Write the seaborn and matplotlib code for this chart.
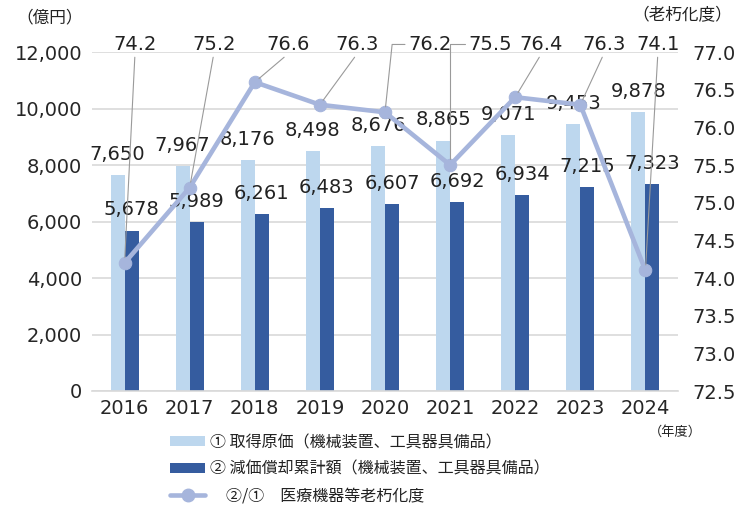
import numpy as np
import pandas as pd
import matplotlib
matplotlib.use('Agg')
import matplotlib.pyplot as plt
from matplotlib.patches import Patch
from matplotlib.lines import Line2D
import seaborn as sns

sns.set_style('white')
plt.rcParams['font.family'] = ['DejaVu Sans', 'Noto Sans CJK JP']
plt.rcParams['text.color'] = '#222222'
JP = ['Noto Sans CJK JP', 'DejaVu Sans']

# data
YEARS = ['2016', '2017', '2018', '2019', '2020', '2021', '2022', '2023', '2024']
ACQ = [7650, 7967, 8176, 8498, 8676, 8865, 9071, 9453, 9878]      # ① 取得原価
DEP = [5678, 5989, 6261, 6483, 6607, 6692, 6934, 7215, 7323]      # ② 減価償却累計額
RATIO = [74.2, 75.2, 76.6, 76.3, 76.2, 75.5, 76.4, 76.3, 74.1]    # ②/① 老朽化度

LAB_ACQ = '① 取得原価（機械装置、工具器具備品）'
LAB_DEP = '② 減価償却累計額（機械装置、工具器具備品）'
LAB_RATIO = '　②/①　医療機器等老朽化度'

C_LIGHT = '#BDD7EE'
C_DARK = '#355C9F'
C_LINE = '#A6B5DC'
C_GRID = '#D9D9D9'

df = pd.DataFrame({
    'year': YEARS * 2,
    'value': ACQ + DEP,
    'series': [LAB_ACQ] * len(YEARS) + [LAB_DEP] * len(YEARS),
})

fig = plt.figure(figsize=(7.47, 5.07), dpi=100)
ax = fig.add_axes([92 / 747, 1 - 391 / 507, (678 - 92) / 747, (391 - 52) / 507])

sns.barplot(data=df, x='year', y='value', hue='series', palette=[C_LIGHT, C_DARK],
            width=0.43, saturation=1, ax=ax, legend=False, zorder=2,
            linewidth=0, edgecolor='none')
for cont in ax.containers:
    ax.bar_label(cont, labels=[f'{int(b.get_height()):,}' for b in cont],
                 padding=8, fontsize=14)

ax.set_ylim(0, 12000)
ax.set_xlim(-0.5, len(YEARS) - 0.5)
ax.set_yticks(range(0, 12001, 2000))
ax.set_yticklabels([f'{v:,}' for v in range(0, 12001, 2000)])
ax.yaxis.grid(True, color=C_GRID, lw=1.2, zorder=0)
ax.set_axisbelow(True)
ax.set_xlabel('')
ax.set_ylabel('')
ax.tick_params(axis='both', length=0, labelsize=14)
ax.tick_params(axis='y', pad=7)
ax.tick_params(axis='x', pad=6)
for s in ['top', 'left', 'right']:
    ax.spines[s].set_visible(False)
ax.spines['bottom'].set_color(C_GRID)
ax.spines['bottom'].set_linewidth(1.2)

# ratio line on the right axis
ax2 = ax.twinx()
xpos = np.arange(len(YEARS))
sns.lineplot(x=xpos, y=RATIO, ax=ax2, color=C_LINE, lw=3.3, marker='o',
             markersize=9, markeredgecolor=C_LINE, zorder=3)
ax2.set_ylim(72.5, 77.0)
ax2.set_yticks(np.arange(72.5, 77.01, 0.5))
ax2.set_yticklabels([f'{v:.1f}' for v in np.arange(72.5, 77.01, 0.5)])
ax2.tick_params(axis='y', length=0, labelsize=14, pad=10)
for s in ax2.spines.values():
    s.set_visible(False)
ax2.set_ylabel('')

# ratio labels with leader lines
LAB_DX = [0.16, 0.37, 0.51, 0.57, 0.69, 0.61, 0.40, 0.36, 0.19]
for i, (v, dx) in enumerate(zip(RATIO, LAB_DX)):
    if i in (4, 5):
        ang = 84 if i == 4 else 90
        ap = dict(arrowstyle='-', color='#9A9A9A', lw=0.8, shrinkA=0, shrinkB=4,
                  relpos=(0, 0.5), connectionstyle=f'angle,angleA=0,angleB={ang},rad=0')
    else:
        ap = dict(arrowstyle='-', color='#9A9A9A', lw=0.8, shrinkA=0, shrinkB=4,
                  relpos=(0.5, 0.0))
    ax2.annotate(f'{v:.1f}', xy=(i, v), xytext=(i + dx, 77.1), textcoords='data',
                 ha='center', va='center', fontsize=14, arrowprops=ap,
                 annotation_clip=False, zorder=4)

fig.text(16 / 747, 1 - 18 / 507, '（億円）', fontsize=12, va='center', ha='left', family=JP)
fig.text(732 / 747, 1 - 16 / 507, '（老朽化度）', fontsize=12, va='center', ha='right', family=JP)
fig.text(702 / 747, 1 - 432 / 507, '（年度）', fontsize=9.5, va='center', ha='right', family=JP)

handles = [
    Patch(facecolor=C_LIGHT, edgecolor='none'),
    Patch(facecolor=C_DARK, edgecolor='none'),
    Line2D([0], [0], color=C_LINE, lw=3.3, marker='o', markersize=9),
]
fig.legend(handles, [LAB_ACQ, LAB_DEP, LAB_RATIO], loc='upper left',
           bbox_to_anchor=(170 / 747, 1 - 434 / 507), frameon=False,
           prop={'family': JP, 'size': 11.5},
           handlelength=2.2, handleheight=0.6, handletextpad=0.3, labelspacing=0.6,
           borderpad=0, borderaxespad=0)

fig.savefig('out.png', dpi=100)
